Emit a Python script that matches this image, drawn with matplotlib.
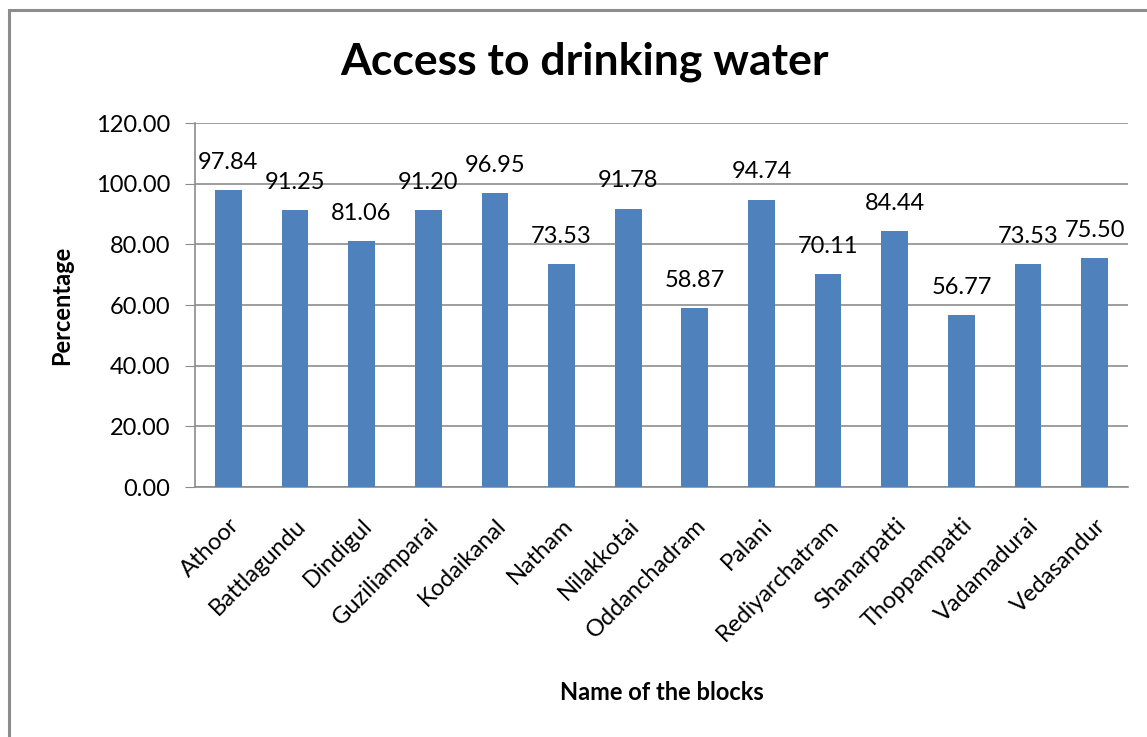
import matplotlib.pyplot as plt
from matplotlib.patches import Rectangle

# Data
blocks = ['Athoor', 'Battlagundu', 'Dindigul', 'Guziliamparai', 'Kodaikanal',
          'Natham', 'Nilakkotai', 'Oddanchadram', 'Palani', 'Rediyarchatram',
          'Shanarpatti', 'Thoppampatti', 'Vadamadurai', 'Vedasandur']
access_pct = [97.84, 91.25, 81.06, 91.20, 96.95, 73.53, 91.78, 58.87, 94.74,
              70.11, 84.44, 56.77, 73.53, 75.50]
y_ticks = [0, 20, 40, 60, 80, 100, 120]

plt.rcParams['font.family'] = ['Lato', 'DejaVu Sans']

W, H = 1147, 737
fig = plt.figure(figsize=(W / 100, H / 100), dpi=100)

# chart border (cut off at right/bottom like the reference)
fig.patches.append(Rectangle((9 / W, -0.1), 1.2, 1 - 10 / H + 0.1,
                             transform=fig.transFigure, fill=False,
                             edgecolor='#8c8c8c', linewidth=2.2))

ax = fig.add_axes([195 / W, 1 - 487 / H, (1128 - 195) / W, (487 - 123) / H])

x = range(len(blocks))
ax.bar(x, access_pct, width=0.4, color='#4F81BD', zorder=3)
ax.set_xlim(-0.5, len(blocks) - 0.5)
ax.set_ylim(0, 120)
ax.set_yticks(y_ticks)
ax.set_yticklabels([f'{v:.2f}' for v in y_ticks])
ax.yaxis.grid(True, color='#8c8c8c', linewidth=1.2, zorder=0)

# value labels above bars
for xi, v in zip(x, access_pct):
    ax.annotate(f'{v:.2f}', (xi, v), xytext=(0, 20), textcoords='offset points',
                ha='center', va='center', fontsize=17)

ax.set_xticks(list(x))
ax.set_xticklabels(blocks, rotation=45, ha='right', rotation_mode='anchor',
                   fontsize=17)
ax.tick_params(axis='x', length=0, pad=20)
ax.tick_params(axis='y', length=7, color='#8c8c8c', labelsize=17, pad=11)

for side in ['top', 'right']:
    ax.spines[side].set_visible(False)
for side in ['left', 'bottom']:
    ax.spines[side].set_color('#8c8c8c')
    ax.spines[side].set_linewidth(1.2)

fig.text(584 / W, 1 - 62 / H, 'Access to drinking water', ha='center',
         va='center', fontsize=32, fontweight='bold')
fig.text(62 / W, 1 - 305 / H, 'Percentage', ha='center', va='center',
         rotation=90, fontsize=17, fontweight='bold')
fig.text(662 / W, 1 - 692 / H, 'Name of the blocks', ha='center',
         va='center', fontsize=17, fontweight='bold')

fig.savefig('out.png', dpi=100)
